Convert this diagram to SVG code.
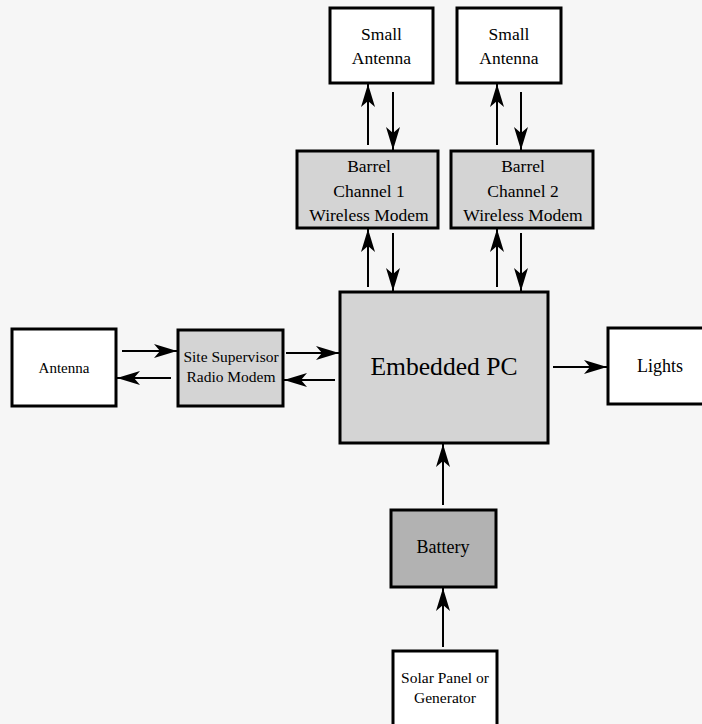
<svg xmlns="http://www.w3.org/2000/svg" width="702" height="724" viewBox="0 0 702 724">
  <defs>
    <marker id="head" markerUnits="userSpaceOnUse" markerWidth="30" markerHeight="20" viewBox="-24 -10 26 20" refX="0" refY="0" orient="auto">
      <path d="M0,0 L-23,-7 L-17,0 L-23,7 Z" fill="#000"/>
    </marker>
  </defs>
  <style>
    .box { stroke: #000; stroke-width: 3; }
    .plain { fill: #ffffff; }
    .shade { fill: #d4d4d4; }
    .dark { fill: #b2b2b2; }
    .lbl { font-family: "Liberation Serif", "Times New Roman", serif; fill: #000; text-anchor: middle; }
    .conn line { stroke: #000; stroke-width: 2; marker-end: url(#head); }
  </style>

  <rect x="0" y="0" width="702" height="724" fill="#f6f6f6"/>

  <g id="small-antenna-1">
    <rect class="box plain" x="330" y="8" width="103" height="75"/>
    <text class="lbl" x="381.5" y="40" font-size="17.5">Small</text>
    <text class="lbl" x="381.5" y="64" font-size="17.5">Antenna</text>
  </g>
  <g id="small-antenna-2">
    <rect class="box plain" x="457" y="8" width="104" height="75"/>
    <text class="lbl" x="509" y="40" font-size="17.5">Small</text>
    <text class="lbl" x="509" y="64" font-size="17.5">Antenna</text>
  </g>

  <g id="barrel-modem-1">
    <rect class="box shade" x="297" y="151" width="141" height="77"/>
    <text class="lbl" x="369" y="172" font-size="17.5">Barrel</text>
    <text class="lbl" x="369" y="197" font-size="17.5">Channel 1</text>
    <text class="lbl" x="369" y="221" font-size="17.5">Wireless Modem</text>
  </g>
  <g id="barrel-modem-2">
    <rect class="box shade" x="451" y="151" width="142" height="77"/>
    <text class="lbl" x="523" y="172" font-size="17.5">Barrel</text>
    <text class="lbl" x="523" y="197" font-size="17.5">Channel 2</text>
    <text class="lbl" x="523" y="221" font-size="17.5">Wireless Modem</text>
  </g>

  <g id="antenna">
    <rect class="box plain" x="12" y="329" width="104" height="77"/>
    <text class="lbl" x="64" y="373" font-size="15">Antenna</text>
  </g>
  <g id="site-supervisor-modem">
    <rect class="box shade" x="178" y="330" width="105" height="76"/>
    <text class="lbl" x="231" y="362" font-size="15.5">Site Supervisor</text>
    <text class="lbl" x="231" y="382" font-size="15.5">Radio Modem</text>
  </g>

  <g id="embedded-pc">
    <rect class="box shade" x="340" y="292" width="208" height="151"/>
    <text class="lbl" x="444" y="375" font-size="25.6">Embedded PC</text>
  </g>

  <g id="lights">
    <rect class="box plain" x="608" y="328" width="100" height="76"/>
    <text class="lbl" x="660" y="372" font-size="18">Lights</text>
  </g>

  <g id="battery">
    <rect class="box dark" x="391" y="510" width="105" height="77"/>
    <text class="lbl" x="443" y="553" font-size="18">Battery</text>
  </g>

  <g id="solar-panel">
    <rect class="box plain" x="393" y="651" width="104" height="80"/>
    <text class="lbl" x="445" y="683" font-size="15.5">Solar Panel or</text>
    <text class="lbl" x="445" y="703" font-size="15.5">Generator</text>
  </g>

  <g id="connectors" class="conn">
    <!-- barrel modems to/from small antennas -->
    <line x1="368" y1="145" x2="368" y2="84"/>
    <line x1="393" y1="92" x2="393" y2="150"/>
    <line x1="497" y1="145" x2="497" y2="84"/>
    <line x1="521" y1="92" x2="521" y2="150"/>
    <!-- embedded PC to/from barrel modems -->
    <line x1="368" y1="287" x2="368" y2="229"/>
    <line x1="393" y1="233" x2="393" y2="291"/>
    <line x1="497" y1="287" x2="497" y2="229"/>
    <line x1="521" y1="233" x2="521" y2="291"/>
    <!-- antenna / site supervisor modem -->
    <line x1="122" y1="351" x2="177" y2="351"/>
    <line x1="171" y1="378" x2="117" y2="378"/>
    <!-- site supervisor modem / embedded PC -->
    <line x1="286" y1="353" x2="339" y2="353"/>
    <line x1="335" y1="380" x2="284" y2="380"/>
    <!-- embedded PC to lights -->
    <line x1="553" y1="367" x2="607" y2="367"/>
    <!-- power chain -->
    <line x1="443" y1="505" x2="443" y2="444"/>
    <line x1="443" y1="647" x2="443" y2="588"/>
  </g>
</svg>
